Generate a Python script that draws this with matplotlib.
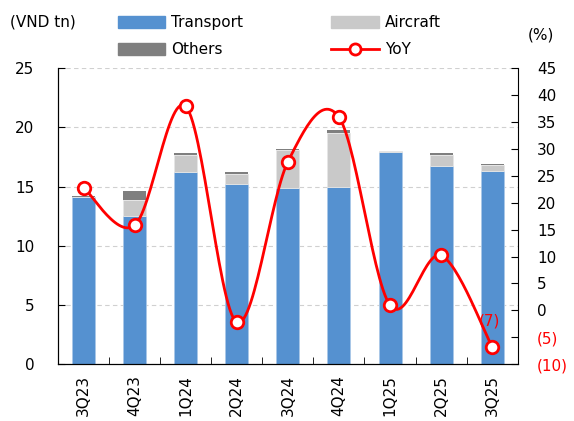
import numpy as np
import matplotlib.pyplot as plt
from matplotlib.ticker import FixedLocator, FuncFormatter
from matplotlib.lines import Line2D
from matplotlib.patches import Patch

quarters = ["3Q23", "4Q23", "1Q24", "2Q24", "3Q24", "4Q24", "1Q25", "2Q25", "3Q25"]
transport = [14.1, 12.5, 16.2, 15.25, 14.9, 15.0, 17.9, 16.75, 16.35]
aircraft = [0.0, 1.4, 1.5, 0.85, 3.15, 4.5, 0.1, 0.95, 0.5]
others = [0.1, 0.7, 0.1, 0.15, 0.1, 0.3, 0.0, 0.15, 0.1]
yoy = [22.8, 15.8, 37.9, -2.2, 27.6, 35.9, 0.95, 10.2, -6.8]

blue = "#5591d0"
light = "#c9c9c9"
dark = "#7f7f7f"
red = "#ff0000"


def smooth(xs, ys, n=30):
    # Catmull-Rom style bezier, similar to excel smoothed lines
    xs = np.asarray(xs, float)
    ys = np.asarray(ys, float)
    px = np.concatenate([[xs[0]], xs, [xs[-1]]])
    py = np.concatenate([[ys[0]], ys, [ys[-1]]])
    outx, outy = [], []
    for i in range(1, len(px) - 2):
        p0 = np.array([px[i], py[i]])
        p3 = np.array([px[i + 1], py[i + 1]])
        c1 = p0 + (p3 - np.array([px[i - 1], py[i - 1]])) / 6
        c2 = p3 - (np.array([px[i + 2], py[i + 2]]) - p0) / 6
        t = np.linspace(0, 1, n)[:, None]
        pts = (1 - t) ** 3 * p0 + 3 * (1 - t) ** 2 * t * c1 + 3 * (1 - t) * t ** 2 * c2 + t ** 3 * p3
        outx.extend(pts[:, 0])
        outy.extend(pts[:, 1])
    return outx, outy


plt.rcParams['font.family'] = ['DejaVu Sans']
plt.rcParams['font.size'] = 11

fig = plt.figure(figsize=(5.74, 4.21), dpi=100)
ax = fig.add_axes([0.101, 0.135, 0.801, 0.703])
x = np.arange(len(quarters))
w = 0.45

t = np.array(transport)
a = np.array(aircraft)
o = np.array(others)
ax.bar(x, t, w, color=blue, edgecolor="#a9c8e8", linewidth=0.6, zorder=2)
ax.bar(x, a, w, bottom=t, color=light, edgecolor="#e6e6e6", linewidth=0.6, zorder=2)
ax.bar(x, o, w, bottom=t + a, color=dark, linewidth=0, zorder=2)

ax.set_xlim(-0.5, len(quarters) - 0.5)
ax.set_ylim(0, 25)
ax.set_yticks(range(0, 26, 5))
ax.set_xticks(x)
ax.set_xticklabels(quarters, rotation=90)
ax.xaxis.set_minor_locator(FixedLocator(x[:-1] + 0.5))
ax.tick_params(axis='x', which='major', length=0, pad=8)
ax.tick_params(axis='x', which='minor', direction='in', length=5)
ax.tick_params(axis='y', direction='in', length=5, pad=17)
ax.grid(axis='y', color="#d0d0d0", linestyle=(0, (4, 3)), linewidth=0.8, zorder=0)
ax.spines['top'].set_visible(False)
ax.spines['right'].set_visible(False)

ax2 = ax.twinx()
ax2.set_ylim(-10, 45)
ax2.set_yticks(range(-10, 46, 5))
ax2.yaxis.set_major_formatter(FuncFormatter(lambda v, p: "(%d)" % abs(v) if v < 0 else "%d" % v))
ax2.tick_params(axis='y', direction='in', length=5, pad=14)
for lab, v in zip(ax2.get_yticklabels(), range(-10, 46, 5)):
    if v < 0:
        lab.set_color(red)
ax2.spines['top'].set_visible(False)

sx, sy = smooth(x, yoy)
ax2.plot(sx, sy, color=red, linewidth=2, zorder=3)
ax2.plot(x, yoy, linestyle='none', marker='o', markersize=9, markerfacecolor='white',
         markeredgecolor=red, markeredgewidth=2, zorder=4)
ax2.annotate("(%d)" % round(abs(yoy[-1])), (x[-1], yoy[-1]), xytext=(-2, 19),
             textcoords='offset points', color=red, ha='center', va='center', fontsize=11)

fig.text(0.017, 0.947, "(VND tn)", fontsize=11, va='center')
fig.text(0.92, 0.918, "(%)", fontsize=11, va='center')

handles = [Patch(color=blue), Patch(color=light), Patch(color=dark),
           Line2D([0], [0], color=red, lw=2, marker='o', markersize=8,
                  markerfacecolor='white', markeredgecolor=red, markeredgewidth=2)]
labels = ["Transport", "Aircraft", "Others", "YoY"]
order = [0, 2, 1, 3]
fig.legend([handles[i] for i in order], [labels[i] for i in order], ncol=2,
           loc='upper left', bbox_to_anchor=(118 / 574, 0.964), frameon=False,
           borderpad=0, borderaxespad=0,
           handlelength=3.1, handleheight=0.8, columnspacing=5.75, labelspacing=0.8,
           handletextpad=0.4, fontsize=11)

fig.savefig("out.png", dpi=100)
